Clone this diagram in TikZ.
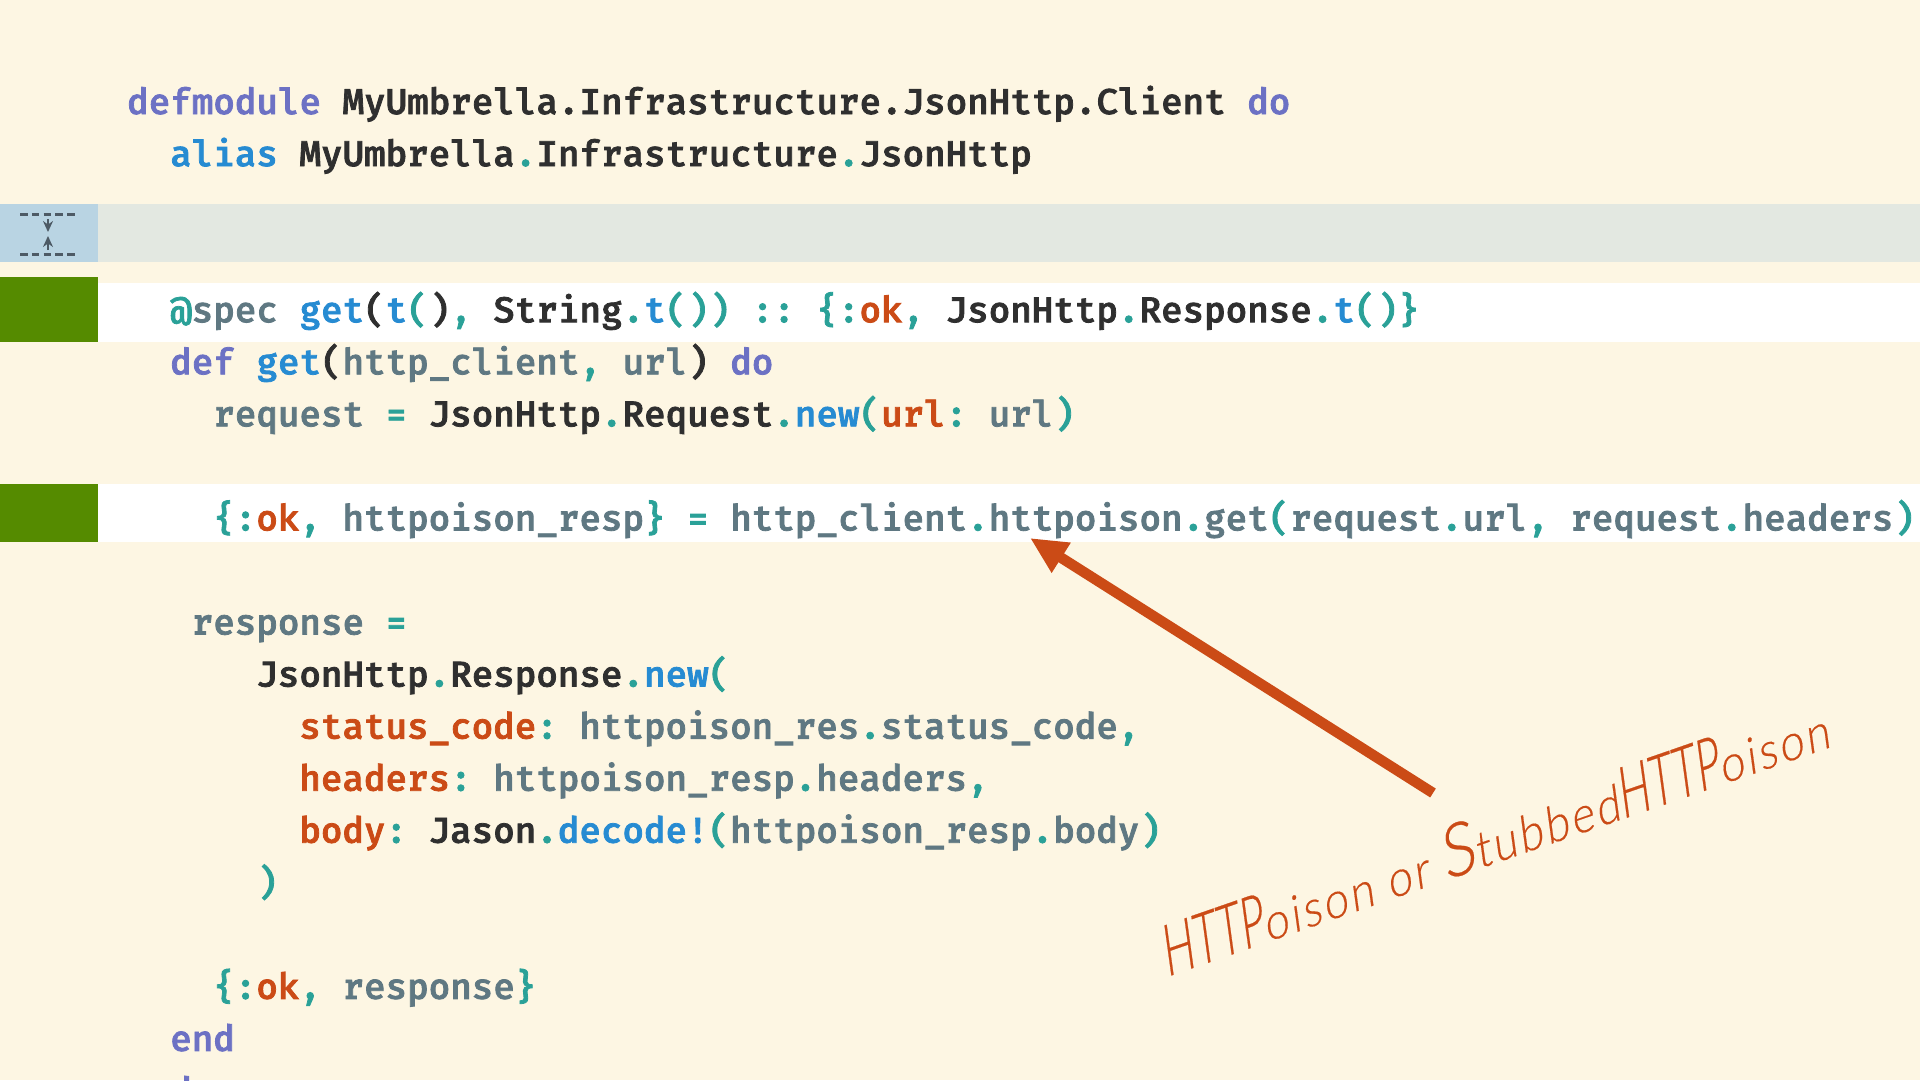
\documentclass[tikz,border=0pt]{standalone}
\usepackage{fontspec}
\usetikzlibrary{arrows.meta}
\setmonofont[FakeBold=2.2]{Fira Mono Medium}
\newfontfamily\handfont[FakeStretch=0.9,FakeSlant=0.2,LetterSpace=5.6,FakeBold=0.3]{Lato Light}
\newfontfamily\handcaps[FakeStretch=0.61,FakeSlant=0.2,FakeBold=0.3]{Lato Light}
\definecolor{paper}{HTML}{FDF6E3}
\definecolor{violet}{HTML}{6C71C4}
\definecolor{azure}{HTML}{268BD2}
\definecolor{sea}{HTML}{2AA198}
\definecolor{rust}{HTML}{CB4B16}
\definecolor{slategrey}{HTML}{5F7882}
\definecolor{ink}{HTML}{2F2F2F}
\definecolor{leaf}{HTML}{558B00}
\definecolor{foldband}{HTML}{E3E8E1}
\definecolor{foldgutter}{HTML}{B9D4E3}
\definecolor{foldicon}{HTML}{4D5A65}
\newcommand{\kw}[1]{\textcolor{violet}{#1}}
\newcommand{\fn}[1]{\textcolor{azure}{#1}}
\newcommand{\pn}[1]{\textcolor{sea}{#1}}
\newcommand{\at}[1]{\textcolor{rust}{#1}}
\newcommand{\vr}[1]{\textcolor{slategrey}{#1}}
\newcommand{\md}[1]{\textcolor{ink}{#1}}
\newcommand{\hc}[1]{{\handcaps\fontsize{70}{70}\selectfont #1}}
\newcommand{\hs}[1]{{\handfont\fontsize{72}{72}\selectfont #1}}
\def\cw{21.52}
\def\rh{52.05}
\tikzset{
    codeline/.style={anchor=base west, inner sep=0pt, font=\ttfamily\fontsize{35.9}{43}\selectfont},
}
\begin{document}
\begin{tikzpicture}[x=1pt, y=-1pt]
    \useasboundingbox (0,0) rectangle (1920,1080);
    \clip (0,0) rectangle (1920,1080);
    \fill[paper] (0,0) rectangle (1920,1080);

    % Bands
    \fill[foldband] (98,204) rectangle (1920,262);
    \fill[foldgutter] (0,204) rectangle (98,262);
    \fill[white] (98,283) rectangle (1920,342);
    \fill[leaf] (0,277) rectangle (98,342);
    \fill[white] (98,484) rectangle (1920,542);
    \fill[leaf] (0,484) rectangle (98,542);

    % Collapse icon
    \draw[foldicon, line width=3pt, dash pattern=on 7.5pt off 4.3pt] (20,214) -- (76,214);
    \draw[foldicon, line width=3pt, dash pattern=on 7.5pt off 4.3pt] (20,254) -- (76,254);
    \draw[foldicon, line width=2pt, -{Stealth[length=11pt,width=10pt]}] (48,219) -- (48,232);
    \draw[foldicon, line width=2pt, -{Stealth[length=11pt,width=10pt]}] (48,250) -- (48,236);

    % Code
    \node[codeline] (mod) at (127,{114+0*\rh}) {\kw{defmodule} \md{MyUmbrella.Infrastructure.JsonHttp.Client} \kw{do}};
    \node[codeline] (alias) at ({127+2*\cw},{114+1*\rh}) {\fn{alias} \md{MyUmbrella}\pn{.}\md{Infrastructure}\pn{.}\md{JsonHttp}};
    \node[codeline] (spec) at ({127+2*\cw},{114+4*\rh}) {\pn{@}\vr{spec} \fn{get}\md{(}\fn{t}\pn{(}\md{)}\pn{,} \md{String}\pn{.}\fn{t}\pn{())} \pn{::} \pn{\{:}\at{ok}\pn{,} \md{JsonHttp}\pn{.}\md{Response}\pn{.}\fn{t}\pn{()\}}};
    \node[codeline] (def) at ({127+2*\cw},{114+5*\rh}) {\kw{def} \fn{get}\md{(}\vr{http\_client}\pn{,} \vr{url}\md{)} \kw{do}};
    \node[codeline] (req) at ({127+4*\cw},{114+6*\rh}) {\vr{request} \pn{=} \md{JsonHttp}\pn{.}\md{Request}\pn{.}\fn{new}\pn{(}\at{url}\pn{:} \vr{url}\pn{)}};
    \node[codeline] (poison) at ({127+4*\cw},{114+8*\rh}) {\pn{\{:}\at{ok}\pn{,} \vr{httpoison\_resp}\pn{\}} \pn{=} \vr{http\_client}\pn{.}\vr{httpoison}\pn{.}\vr{get}\pn{(}\vr{request}\pn{.}\vr{url}\pn{,} \vr{request}\pn{.}\vr{headers}\pn{)}};
    \node[codeline] (resp) at ({127+3*\cw},{114+10*\rh}) {\vr{response} \pn{=}};
    \node[codeline] (new) at ({127+6*\cw},{114+11*\rh}) {\md{JsonHttp}\pn{.}\md{Response}\pn{.}\fn{new}\pn{(}};
    \node[codeline] (status) at ({127+8*\cw},{114+12*\rh}) {\at{status\_code}\pn{:} \vr{httpoison\_res}\pn{.}\vr{status\_code}\pn{,}};
    \node[codeline] (head) at ({127+8*\cw},{114+13*\rh}) {\at{headers}\pn{:} \vr{httpoison\_resp}\pn{.}\vr{headers}\pn{,}};
    \node[codeline] (body) at ({127+8*\cw},{114+14*\rh}) {\at{body}\pn{:} \md{Jason}\pn{.}\fn{decode!}\pn{(}\vr{httpoison\_resp}\pn{.}\vr{body}\pn{)}};
    \node[codeline] (close) at ({127+6*\cw},{114+15*\rh}) {\pn{)}};
    \node[codeline] (ok) at ({127+4*\cw},{114+17*\rh}) {\pn{\{:}\at{ok}\pn{,} \vr{response}\pn{\}}};
    \node[codeline] (enddef) at ({127+2*\cw},{114+18*\rh}) {\kw{end}};
    \node[codeline] (endmod) at (127,{114+19*\rh}) {\kw{end}};

    % Annotation
    \node[anchor=base west, inner sep=0pt, rotate=19.1, text=rust, font=\handfont\fontsize{50}{70}\selectfont] (note) at (1167,977) {\hc{HTTP}oison or \hs{S}tubbed\hc{HTTP}oison};
    \coordinate (tail) at (1433,793);
    \coordinate (tip) at (1030,538);
    \draw[rust, line width=10.5pt, -{Triangle[length=37pt,width=33pt]}] (tail) -- (tip);
\end{tikzpicture}
\end{document}
